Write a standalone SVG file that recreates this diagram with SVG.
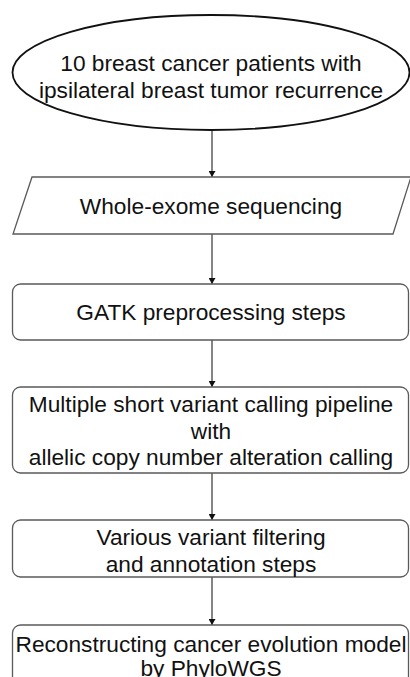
<svg xmlns="http://www.w3.org/2000/svg" width="410" height="677" viewBox="0 0 410 677">
<style>
  .box { fill: #ffffff; stroke: #5a5a5a; stroke-width: 1.3; }
  .ell { fill: #ffffff; stroke: #111111; stroke-width: 1.8; }
  .lbl { font-family: "Liberation Sans", Arial, sans-serif; font-size: 22.7px; fill: #111111; text-anchor: middle; }
  .conn { stroke: #333333; stroke-width: 1.2; fill: none; marker-end: url(#arr); }
</style>
<defs>
  <marker id="arr" markerWidth="7" markerHeight="7" refX="6" refY="3.5" orient="auto" markerUnits="userSpaceOnUse">
    <path d="M0,0 L6,3.5 L0,7 Z" fill="#111111"/>
  </marker>
</defs>
<rect width="410" height="677" fill="#ffffff"/>
<g id="connectors">
  <line class="conn" x1="212" y1="130" x2="212" y2="177"/>
  <line class="conn" x1="212" y1="234" x2="212" y2="284"/>
  <line class="conn" x1="212" y1="340" x2="212" y2="387"/>
  <line class="conn" x1="212" y1="473" x2="212" y2="520"/>
  <line class="conn" x1="212" y1="577" x2="212" y2="625"/>
</g>
<g id="n1">
  <ellipse class="ell" cx="211" cy="72.5" rx="198.5" ry="57.5"/>
  <text class="lbl" x="211" y="71">10 breast cancer patients with</text>
  <text class="lbl" x="211" y="98">ipsilateral breast tumor recurrence</text>
</g>
<g id="n2">
  <polygon class="box" points="32,177 411,177 393,234 13,234"/>
  <text class="lbl" x="211" y="214">Whole-exome sequencing</text>
</g>
<g id="n3">
  <rect class="box" x="12.5" y="284" width="396" height="56" rx="8"/>
  <text class="lbl" x="211" y="320">GATK preprocessing steps</text>
</g>
<g id="n4">
  <rect class="box" x="12.5" y="387" width="396" height="86" rx="8"/>
  <text class="lbl" x="211" y="412">Multiple short variant calling pipeline</text>
  <text class="lbl" x="211" y="438.5">with</text>
  <text class="lbl" x="211" y="465">allelic copy number alteration calling</text>
</g>
<g id="n5">
  <rect class="box" x="12.5" y="520" width="396" height="57" rx="8"/>
  <text class="lbl" x="211" y="545">Various variant filtering</text>
  <text class="lbl" x="211" y="571.5">and annotation steps</text>
</g>
<g id="n6">
  <rect class="box" x="12.5" y="625" width="396" height="70" rx="8"/>
  <text class="lbl" x="211" y="651.5">Reconstructing cancer evolution model</text>
  <text class="lbl" x="211" y="676">by PhyloWGS</text>
</g>
</svg>
